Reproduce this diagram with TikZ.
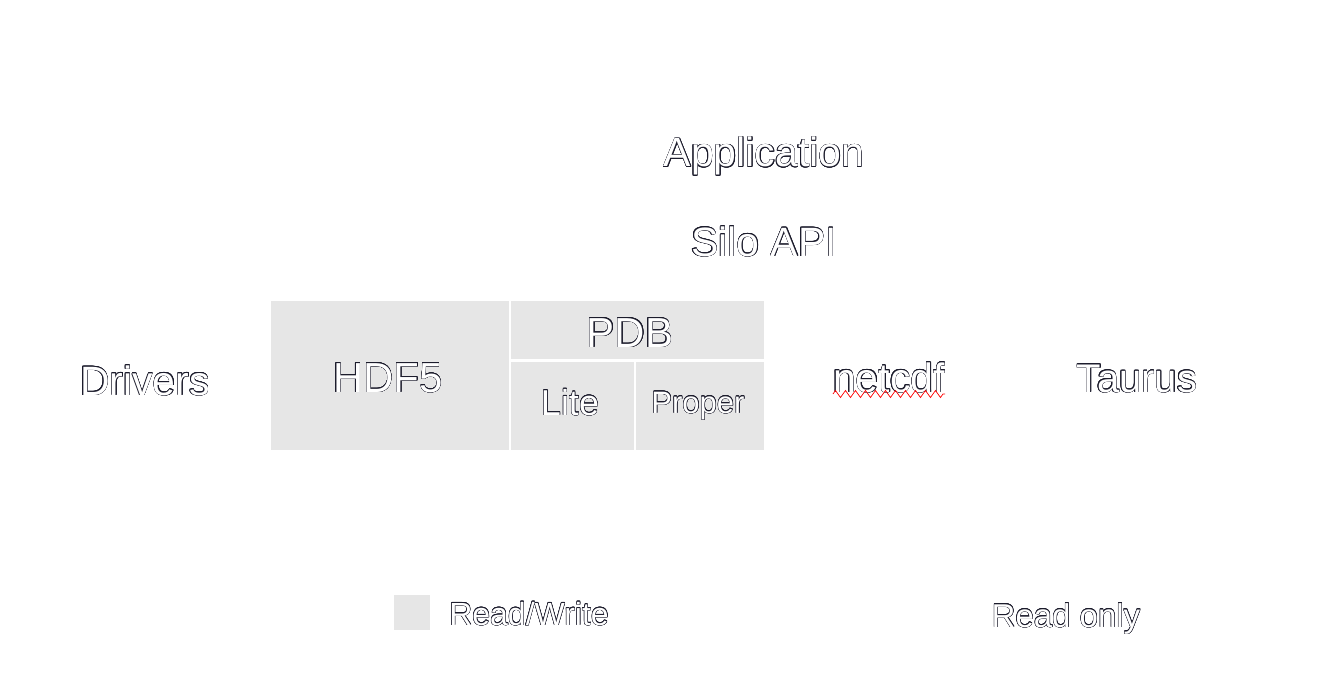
\documentclass[tikz,border=0pt]{standalone}
\usepackage{fontspec}
\setmainfont{Liberation Sans}
\usepackage{contour}
\contourlength{0.45pt}
\contournumber{16}
\usetikzlibrary{decorations.pathmorphing}
\definecolor{boxgray}{HTML}{E6E6E6}
\definecolor{edgecol}{HTML}{1C1C2C}
\newcommand{\outl}[1]{\contour{edgecol}{#1}}
\begin{document}
\begin{tikzpicture}[x=1pt,y=-1pt,
  lbl/.style={inner sep=0pt, anchor=base, text=white},
  fs/.style={font=\fontsize{#1}{#1}\selectfont},
  cell/.style={fill=boxgray, draw=none, inner sep=0pt, anchor=north west}]
\useasboundingbox (0,0) rectangle (1320,687);

% boxes
\node[cell, minimum width=238pt, minimum height=149pt] (hdfbox) at (271,301) {};
\node[cell, minimum width=253pt, minimum height=58pt] (pdbbox) at (511,301) {};
\node[cell, minimum width=123pt, minimum height=88pt] (litebox) at (511,362) {};
\node[cell, minimum width=128pt, minimum height=88pt] (properbox) at (636,362) {};
\node[cell, minimum width=36pt, minimum height=35pt] (legbox) at (394,595) {};

% texts
\node[lbl, fs=41] (app) at (764,167) {\outl{Application}};
\node[lbl, fs=41] (silo) at (764,256) {\outl{Silo API}};
\node[lbl, fs=42] (hdf) at (388,392) {\outl{HDF5}};
\node[lbl, fs=42] (pdb) at (630,347) {\outl{PDB}};
\node[lbl, fs=36] (lite) at (570,415) {\outl{Lite}};
\node[lbl, fs=31] (proper) at (698,413) {\outl{Proper}};
\node[lbl, fs=41] (drivers) at (145,395) {\outl{Drivers}};
\node[lbl, fs=41] (netcdf) at (889,392) {\outl{netcdf}};
\node[lbl, fs=40] (taurus) at (1137,392) {\outl{Taurus}};
\node[lbl, fs=32] (rw) at (529,625) {\outl{Read/Write}};
\node[lbl, fs=33] (ro) at (1066,627) {\outl{Read only}};

% spell-check squiggle
\draw[red, line width=0.7pt, decorate, decoration={zigzag, segment length=10pt, amplitude=3.5pt}]
  ([yshift=-2pt]netcdf.base west) -- ([yshift=-2pt]netcdf.base east);
\end{tikzpicture}
\end{document}
